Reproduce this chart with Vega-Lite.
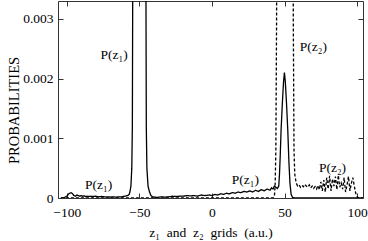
{
  "$schema": "https://vega.github.io/schema/vega-lite/v6.json",
  "width": 305,
  "height": 197,
  "autosize": "none",
  "padding": {"left": 58, "top": 1, "right": 5, "bottom": 43},
  "background": "white",
  "config": {
    "view": {"stroke": "#333", "strokeWidth": 1},
    "font": "Liberation Serif",
    "axis": {
      "domain": false, "grid": false, "tickColor": "#333", "tickSize": -5,
      "labelFont": "Liberation Serif", "labelFontSize": 13.5, "labelColor": "#000",
      "titleFont": "Liberation Serif", "titleFontSize": 13.5, "titleFontWeight": "normal", "titleColor": "#000"
    }
  },
  "datasets": {
    "curves": [
      {"x": -104, "p": 0, "s": "z1"},
      {"x": -102, "p": 0.000005, "s": "z1"},
      {"x": -100, "p": 0.00003, "s": "z1"},
      {"x": -99, "p": 0.00006, "s": "z1"},
      {"x": -98, "p": 0.00008, "s": "z1"},
      {"x": -97, "p": 0.00009, "s": "z1"},
      {"x": -96, "p": 0.00007, "s": "z1"},
      {"x": -95, "p": 0.00004, "s": "z1"},
      {"x": -94, "p": 0.00003, "s": "z1"},
      {"x": -93, "p": 0.00005, "s": "z1"},
      {"x": -92, "p": 0.00004, "s": "z1"},
      {"x": -91, "p": 0.00003, "s": "z1"},
      {"x": -90, "p": 0.00004, "s": "z1"},
      {"x": -89, "p": 0.00003, "s": "z1"},
      {"x": -88, "p": 0.000035, "s": "z1"},
      {"x": -87, "p": 0.000025, "s": "z1"},
      {"x": -86, "p": 0.00003, "s": "z1"},
      {"x": -85, "p": 0.000025, "s": "z1"},
      {"x": -84, "p": 0.00003, "s": "z1"},
      {"x": -82, "p": 0.000025, "s": "z1"},
      {"x": -80, "p": 0.00003, "s": "z1"},
      {"x": -78, "p": 0.00002, "s": "z1"},
      {"x": -76, "p": 0.000025, "s": "z1"},
      {"x": -74, "p": 0.00002, "s": "z1"},
      {"x": -72, "p": 0.00002, "s": "z1"},
      {"x": -70, "p": 0.000015, "s": "z1"},
      {"x": -68, "p": 0.00002, "s": "z1"},
      {"x": -66, "p": 0.000015, "s": "z1"},
      {"x": -64, "p": 0.00002, "s": "z1"},
      {"x": -62, "p": 0.00002, "s": "z1"},
      {"x": -60, "p": 0.00003, "s": "z1"},
      {"x": -58, "p": 0.00004, "s": "z1"},
      {"x": -57, "p": 0.00006, "s": "z1"},
      {"x": -56.5, "p": 0.0001, "s": "z1"},
      {"x": -55.8, "p": 0.0002, "s": "z1"},
      {"x": -55.2, "p": 0.0005, "s": "z1"},
      {"x": -54.8, "p": 0.0012, "s": "z1"},
      {"x": -54.5, "p": 0.004, "s": "z1"},
      {"x": -53, "p": 0.012, "s": "z1"},
      {"x": -50, "p": 0.02, "s": "z1"},
      {"x": -47, "p": 0.012, "s": "z1"},
      {"x": -45.5, "p": 0.004, "s": "z1"},
      {"x": -45.2, "p": 0.0012, "s": "z1"},
      {"x": -44.8, "p": 0.0005, "s": "z1"},
      {"x": -44, "p": 0.0002, "s": "z1"},
      {"x": -43, "p": 0.0001, "s": "z1"},
      {"x": -42, "p": 0.00004, "s": "z1"},
      {"x": -41, "p": 0.00002, "s": "z1"},
      {"x": -38, "p": 0.00001, "s": "z1"},
      {"x": -35, "p": 0.00002, "s": "z1"},
      {"x": -32, "p": 0.000015, "s": "z1"},
      {"x": -30, "p": 0.00002, "s": "z1"},
      {"x": -27, "p": 0.00003, "s": "z1"},
      {"x": -25, "p": 0.000025, "s": "z1"},
      {"x": -22, "p": 0.00003, "s": "z1"},
      {"x": -20, "p": 0.00003, "s": "z1"},
      {"x": -17, "p": 0.00004, "s": "z1"},
      {"x": -15, "p": 0.000035, "s": "z1"},
      {"x": -12, "p": 0.00004, "s": "z1"},
      {"x": -10, "p": 0.00003, "s": "z1"},
      {"x": -7, "p": 0.00005, "s": "z1"},
      {"x": -5, "p": 0.00004, "s": "z1"},
      {"x": -2, "p": 0.00005, "s": "z1"},
      {"x": 0, "p": 0.00004, "s": "z1"},
      {"x": 2, "p": 0.00006, "s": "z1"},
      {"x": 4, "p": 0.00005, "s": "z1"},
      {"x": 6, "p": 0.00007, "s": "z1"},
      {"x": 8, "p": 0.00006, "s": "z1"},
      {"x": 10, "p": 0.00008, "s": "z1"},
      {"x": 12, "p": 0.00007, "s": "z1"},
      {"x": 14, "p": 0.00009, "s": "z1"},
      {"x": 16, "p": 0.00008, "s": "z1"},
      {"x": 18, "p": 0.0001, "s": "z1"},
      {"x": 20, "p": 0.00009, "s": "z1"},
      {"x": 22, "p": 0.00011, "s": "z1"},
      {"x": 24, "p": 0.0001, "s": "z1"},
      {"x": 26, "p": 0.00012, "s": "z1"},
      {"x": 28, "p": 0.0001, "s": "z1"},
      {"x": 30, "p": 0.00013, "s": "z1"},
      {"x": 32, "p": 0.00011, "s": "z1"},
      {"x": 34, "p": 0.00014, "s": "z1"},
      {"x": 36, "p": 0.00012, "s": "z1"},
      {"x": 38, "p": 0.00015, "s": "z1"},
      {"x": 40, "p": 0.00013, "s": "z1"},
      {"x": 41, "p": 0.00017, "s": "z1"},
      {"x": 42, "p": 0.00015, "s": "z1"},
      {"x": 43, "p": 0.0002, "s": "z1"},
      {"x": 44, "p": 0.00018, "s": "z1"},
      {"x": 45, "p": 0.00016, "s": "z1"},
      {"x": 46, "p": 0.0002, "s": "z1"},
      {"x": 46.5, "p": 0.0004, "s": "z1"},
      {"x": 47, "p": 0.0007, "s": "z1"},
      {"x": 47.6, "p": 0.00114, "s": "z1"},
      {"x": 48.5, "p": 0.0016, "s": "z1"},
      {"x": 49.3, "p": 0.00195, "s": "z1"},
      {"x": 49.9, "p": 0.0021, "s": "z1"},
      {"x": 50.5, "p": 0.00195, "s": "z1"},
      {"x": 51.3, "p": 0.0016, "s": "z1"},
      {"x": 52.2, "p": 0.00114, "s": "z1"},
      {"x": 53, "p": 0.0006, "s": "z1"},
      {"x": 53.7, "p": 0.00025, "s": "z1"},
      {"x": 54.5, "p": 0.00006, "s": "z1"},
      {"x": 55.5, "p": 0.00001, "s": "z1"},
      {"x": 57, "p": 0, "s": "z1"},
      {"x": 104, "p": 0, "s": "z1"},
      {"x": -104, "p": 0, "s": "z2"},
      {"x": 42, "p": 0, "s": "z2"},
      {"x": 43, "p": 0.00003, "s": "z2"},
      {"x": 43.5, "p": 0.0002, "s": "z2"},
      {"x": 44, "p": 0.0008, "s": "z2"},
      {"x": 44.5, "p": 0.003, "s": "z2"},
      {"x": 45, "p": 0.01, "s": "z2"},
      {"x": 50, "p": 0.03, "s": "z2"},
      {"x": 55.5, "p": 0.01, "s": "z2"},
      {"x": 56, "p": 0.003, "s": "z2"},
      {"x": 56.5, "p": 0.0008, "s": "z2"},
      {"x": 57, "p": 0.0004, "s": "z2"},
      {"x": 58, "p": 0.00025, "s": "z2"},
      {"x": 59, "p": 0.0002, "s": "z2"},
      {"x": 60, "p": 0.00022, "s": "z2"},
      {"x": 61, "p": 0.00018, "s": "z2"},
      {"x": 62, "p": 0.00021, "s": "z2"},
      {"x": 63, "p": 0.00019, "s": "z2"},
      {"x": 64, "p": 0.00023, "s": "z2"},
      {"x": 65, "p": 0.0002, "s": "z2"},
      {"x": 66, "p": 0.00018, "s": "z2"},
      {"x": 67, "p": 0.00022, "s": "z2"},
      {"x": 68, "p": 0.00017, "s": "z2"},
      {"x": 69, "p": 0.0002, "s": "z2"},
      {"x": 70, "p": 0.00016, "s": "z2"},
      {"x": 71, "p": 0.00019, "s": "z2"},
      {"x": 72, "p": 0.00015, "s": "z2"},
      {"x": 73, "p": 0.00021, "s": "z2"},
      {"x": 74, "p": 0.00014, "s": "z2"},
      {"x": 75, "p": 0.00027, "s": "z2"},
      {"x": 76, "p": 0.00012, "s": "z2"},
      {"x": 77, "p": 0.0003, "s": "z2"},
      {"x": 78, "p": 0.0001, "s": "z2"},
      {"x": 79, "p": 0.00034, "s": "z2"},
      {"x": 80, "p": 0.00015, "s": "z2"},
      {"x": 81, "p": 0.00037, "s": "z2"},
      {"x": 82, "p": 0.00012, "s": "z2"},
      {"x": 83, "p": 0.00032, "s": "z2"},
      {"x": 84, "p": 0.0002, "s": "z2"},
      {"x": 85, "p": 0.00036, "s": "z2"},
      {"x": 86, "p": 0.00014, "s": "z2"},
      {"x": 87, "p": 0.00038, "s": "z2"},
      {"x": 88, "p": 0.00018, "s": "z2"},
      {"x": 89, "p": 0.00025, "s": "z2"},
      {"x": 90, "p": 0.00015, "s": "z2"},
      {"x": 91, "p": 0.00034, "s": "z2"},
      {"x": 92, "p": 0.0001, "s": "z2"},
      {"x": 93, "p": 0.00022, "s": "z2"},
      {"x": 94, "p": 0.00036, "s": "z2"},
      {"x": 95, "p": 0.00012, "s": "z2"},
      {"x": 96, "p": 0.00025, "s": "z2"},
      {"x": 97, "p": 0.00034, "s": "z2"},
      {"x": 98, "p": 0.0002, "s": "z2"},
      {"x": 99, "p": 0.00008, "s": "z2"},
      {"x": 100, "p": 0.00002, "s": "z2"},
      {"x": 101, "p": 0, "s": "z2"},
      {"x": 104, "p": 0, "s": "z2"}
    ],
    "labels": [
      {"x": -67.4, "p": 0.0024, "label": "P(z₁)"},
      {"x": 69.8, "p": 0.00253, "label": "P(z₂)"},
      {"x": -78, "p": 0.00022, "label": "P(z₁)"},
      {"x": 23, "p": 0.0003, "label": "P(z₁)"},
      {"x": 83, "p": 0.0005, "label": "P(z₂)"}
    ]
  },
  "layer": [
    {
      "data": {"name": "curves"},
      "mark": {"type": "line", "clip": true, "color": "#000", "strokeWidth": 1.3},
      "encoding": {
        "x": {
          "field": "x", "type": "quantitative",
          "scale": {"domain": [-106, 104], "nice": false, "zero": false},
          "axis": {"values": [-100, -50, 0, 50, 100], "title": "z₁\u00a0 and\u00a0 z₂\u00a0 grids\u00a0 (a.u.)", "labelPadding": 12, "titleY": 38, "titleBaseline": "alphabetic"}
        },
        "y": {
          "field": "p", "type": "quantitative",
          "scale": {"domain": [0, 0.0033], "nice": false},
          "axis": {"values": [0, 0.001, 0.002, 0.003], "format": ".3~f", "title": "PROBABILITIES", "titleFontSize": 14.5, "labelPadding": 10, "titleX": -44, "titleY": 109, "titleBaseline": "middle"}
        },
        "strokeDash": {
          "field": "s", "type": "nominal",
          "scale": {"domain": ["z1", "z2"], "range": [[1, 0], [3, 2]]},
          "legend": null
        }
      }
    },
    {
      "data": {"name": "labels"},
      "mark": {"type": "text", "font": "Liberation Serif", "fontSize": 13.5, "color": "#000", "align": "center", "baseline": "middle"},
      "encoding": {
        "x": {"field": "x", "type": "quantitative", "axis": {"orient": "top", "labels": false, "title": null, "values": [-100, -50, 0, 50, 100]}},
        "y": {"field": "p", "type": "quantitative", "axis": {"orient": "right", "labels": false, "title": null, "values": [0, 0.001, 0.002, 0.003]}},
        "text": {"field": "label"}
      }
    }
  ],
  "resolve": {"axis": {"x": "independent", "y": "independent"}}
}
